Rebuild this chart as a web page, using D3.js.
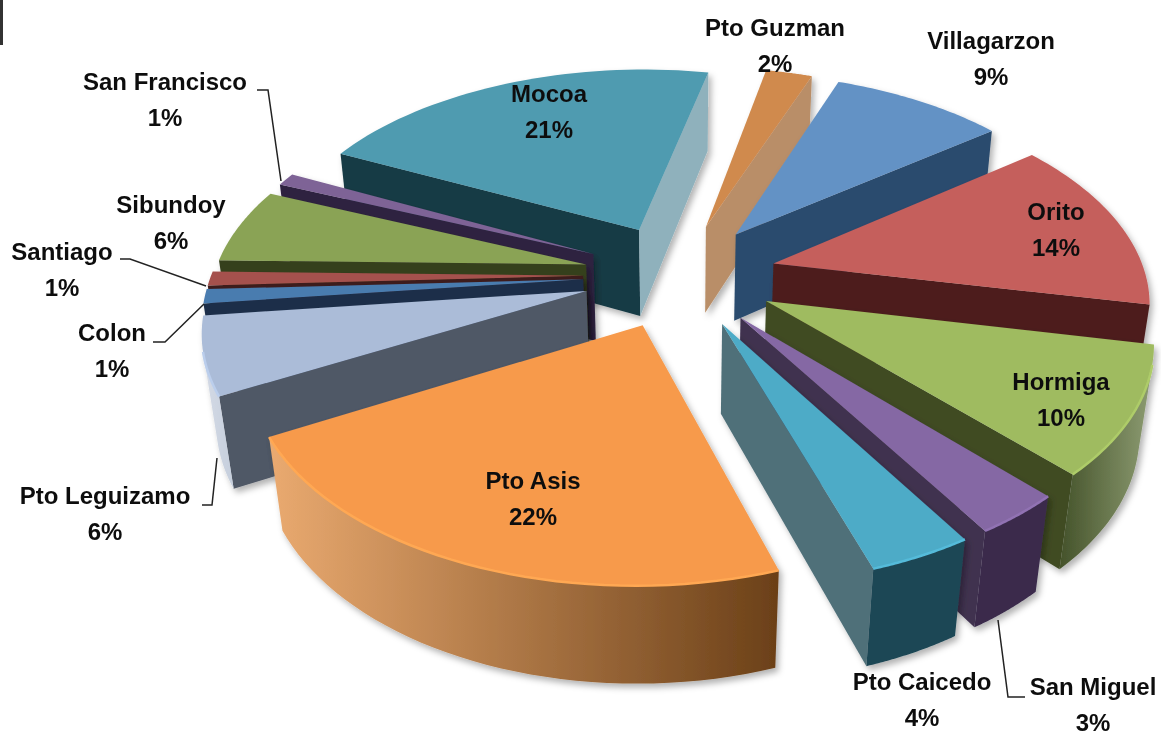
<!DOCTYPE html>
<html>
<head>
<meta charset="utf-8">
<script src="https://cdn.jsdelivr.net/npm/d3@7"></script>
<style>
  html, body { margin: 0; background: #fff; }
  svg { display: block; }
  text { font-family: "Liberation Sans", Arial, sans-serif; font-weight: bold; font-size: 24px; fill: #111; text-anchor: middle; }
</style>
</head>
<body>
<script>
// Values, clockwise from the top of the pie
const names  = ["Villagarzon", "Orito", "Hormiga", "San Miguel", "Pto Caicedo", "Pto Asis", "Pto Leguizamo", "Colon", "Santiago", "Sibundoy", "San Francisco", "Mocoa", "Pto Guzman"];
const shares = [8.9, 13.6, 9.8, 3.2, 3.7, 22.1, 6.0, 1.1, 1.1, 5.9, 1.0, 21.0, 2.4];

// Slice colours
const topColors   = ["#6492c5", "#c55f5c", "#9fbb60", "#8568a4", "#4dabc7", "#f79a4c", "#abbcd8", "#4a7baf", "#a5514e", "#8aa355", "#7e6396", "#4f9bb0", "#d08a4e"];
const startColors = ["#2c4c6e", "#4d1e1d", "#3f4b24", "#3f3050", "#1f4755", "#724820", "#505866", "#1b2e49", "#3c1c1b", "#363f1d", "#2e2240", "#173a45", "#b98e67"];
const endColors   = ["#2c4c6e", "#4d1e1d", "#3f4b24", "#3f3050", "#4f7079", "#724820", "#505866", "#1b2e49", "#3c1c1b", "#363f1d", "#2e2240", "#8fb1bc", "#b98e67"];
const outerFrom   = ["#2c4c6e", "#4d1e1d", "#8d9c72", "#3a2c4c", "#1f4755", "#6b4018", "#c5cedc", "#1b2e49", "#3c1c1b", "#363f1d", "#2e2240", "#173a45", "#b98e67"];
const outerTo     = ["#2c4c6e", "#4d1e1d", "#44522a", "#3a2c4c", "#1f4755", "#eaaa70", "#d5dbe6", "#1b2e49", "#3c1c1b", "#363f1d", "#2e2240", "#173a45", "#b98e67"];

// Where each label sits, [center x, first baseline]
const labelSpots = {
  "Villagarzon": [991, 49], "Orito": [1056, 220], "Hormiga": [1061, 390], "San Miguel": [1093, 695],
  "Pto Caicedo": [922, 690], "Pto Asis": [533, 489], "Pto Leguizamo": [105, 504], "Colon": [112, 341],
  "Santiago": [62, 260], "Sibundoy": [171, 213], "San Francisco": [165, 90], "Mocoa": [549, 102], "Pto Guzman": [775, 36]
};
const leaders = [
  [[257, 90], [268, 90], [281, 181]],
  [[120, 259], [130, 259], [206, 286]],
  [[153, 342], [165, 342], [204, 304]],
  [[202, 505], [212, 505], [217, 458]],
  [[1025, 697], [1008, 697], [998, 620]]
];

const width = 1161, height = 737;
const tilt = 32.5 * Math.PI / 180, cosT = Math.cos(tilt), sinT = Math.sin(tilt);
const camera = 5.2, thickness = 0.288, explode = 0.26;
const firstAngle = 20.5 * Math.PI / 180;

const sx = d3.scaleLinear().domain([-1, 1]).range([680 - 372, 680 + 372]);
const sy = d3.scaleLinear().domain([-1, 1]).range([275 + 372, 275 - 372]);

// Perspective: x right, y away from the viewer, z up
function project(x, y, z) {
  const s = camera / (camera + y * cosT - z * sinT);
  return [sx(x * s), sy((y * sinT + z * cosT) * s)];
}

const arcs = d3.pie().sort(null).value(d => d)
  .startAngle(firstAngle).endAngle(firstAngle + 2 * Math.PI)(shares);

const slices = arcs.map((a, i) => {
  const mid = (a.startAngle + a.endAngle) / 2;
  return { i, a, mid, ox: explode * Math.sin(mid), oy: explode * Math.cos(mid) };
});

const svg = d3.select("body").append("svg").attr("width", width).attr("height", height);
const defs = svg.append("defs");

const soft = defs.append("filter").attr("id", "soft");
soft.append("feGaussianBlur").attr("stdDeviation", 0.5);

const shadow = defs.append("filter").attr("id", "shadow")
  .attr("x", "-10%").attr("y", "-10%").attr("width", "125%").attr("height", "125%");
shadow.append("feDropShadow").attr("dx", 3).attr("dy", 4).attr("stdDeviation", 3)
  .attr("flood-color", "#000").attr("flood-opacity", 0.3);

const line = d3.line();
const closed = pts => line(pts) + "Z";
const root = svg.append("g").attr("filter", "url(#soft)");

root.append("rect").attr("x", 0).attr("y", 0).attr("width", 3).attr("height", 45).attr("fill", "#333");

// Back slices first so the front ones paint over them
const order = slices.slice().sort((p, q) => d3.descending(Math.cos(p.mid), Math.cos(q.mid)));

order.forEach(sl => {
  const { i, a, ox, oy } = sl;
  const g = root.append("g").attr("filter", "url(#shadow)");
  const steps = d3.range(0, 41).map(k => a.startAngle + (a.endAngle - a.startAngle) * k / 40);
  const rim = z => steps.map(t => project(ox + Math.sin(t), oy + Math.cos(t), z));
  const apex = z => project(ox, oy, z);
  const top = rim(0), bottom = rim(-thickness);

  // radial walls, only those facing the viewer
  const startWall = [apex(0), top[0], bottom[0], apex(-thickness)];
  const endWall = [apex(0), top[40], bottom[40], apex(-thickness)];
  if (d3.polygonArea(startWall) > 0) g.append("path").attr("d", closed(startWall)).attr("fill", startColors[i]);
  if (d3.polygonArea(endWall) < 0) g.append("path").attr("d", closed(endWall)).attr("fill", endColors[i]);

  // outer wall, visible stretch only
  const seen = d3.range(0, 40).filter(k => d3.polygonArea([top[k], top[k + 1], bottom[k + 1], bottom[k]]) > 0);
  g.append("path").attr("d", closed([apex(0)].concat(top))).attr("fill", topColors[i]);
  if (seen.length) {
    const k0 = seen[0], k1 = seen[seen.length - 1] + 1;
    const wall = top.slice(k0, k1 + 1).concat(bottom.slice(k0, k1 + 1).reverse());
    const [x0, x1] = d3.extent(wall, p => p[0]);
    const grad = defs.append("linearGradient").attr("id", "outer" + i)
      .attr("gradientUnits", "userSpaceOnUse").attr("x1", x1).attr("x2", x0).attr("y1", 0).attr("y2", 0);
    grad.append("stop").attr("offset", 0).attr("stop-color", outerFrom[i]);
    grad.append("stop").attr("offset", 1).attr("stop-color", outerTo[i]);
    g.append("path").attr("d", closed(wall)).attr("fill", `url(#outer${i})`);
    // bright bevel along the front rim
    g.append("path").attr("d", line(top.slice(k0, k1 + 1))).attr("fill", "none")
      .attr("stroke", d3.color(topColors[i]).brighter(0.25)).attr("stroke-width", 2.5);
  }
});

// Leader lines
root.selectAll("path.leader").data(leaders).join("path")
  .attr("class", "leader")
  .attr("d", d => line(d))
  .attr("fill", "none").attr("stroke", "#222").attr("stroke-width", 1.5);

// Labels
const pct = d3.format(".0f");
names.forEach((name, i) => {
  const [x, y] = labelSpots[name];
  root.append("text").attr("x", x).attr("y", y).text(name);
  root.append("text").attr("x", x).attr("y", y + 36).text(pct(shares[i]) + "%");
});
</script>
</body>
</html>
